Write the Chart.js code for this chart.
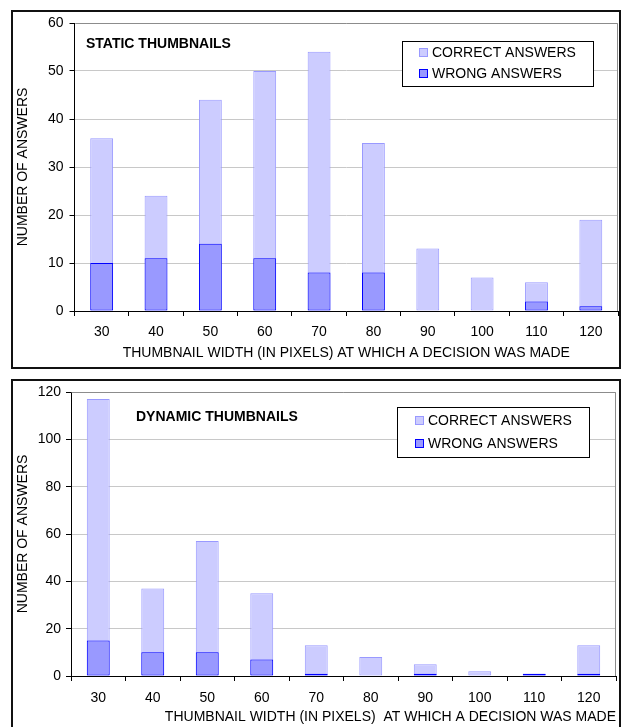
<!DOCTYPE html>
<html>
<head>
<meta charset="utf-8">
<script src="https://cdn.jsdelivr.net/npm/chart.js@4"></script>
<style>
  html, body { margin:0; padding:0; background:#fff; }
  body { width:624px; height:727px; position:relative; overflow:hidden; }
  canvas { position:absolute; left:0; }
</style>
</head>
<body>
<canvas id="c1" width="624" height="373" style="top:0"></canvas>
<canvas id="c2" width="624" height="354" style="top:373px"></canvas>
<script>
// ---- data ----
const widths = ['30','40','50','60','70','80','90','100','110','120'];
const staticCorrect = [36, 24, 44, 50, 54, 35, 13, 7, 6, 19];
const staticWrong   = [10, 11, 14, 11, 8, 8, null, null, 2, 1];
const dynamicCorrect = [117, 37, 57, 35, 13, 8, 5, 2, 1, 13];
const dynamicWrong   = [15, 10, 10, 7, 1, null, 1, null, 1, 1];
const seriesLabels = ['CORRECT ANSWERS', 'WRONG ANSWERS'];
const staticTitle = 'STATIC THUMBNAILS';
const dynamicTitle = 'DYNAMIC THUMBNAILS';
const yTitle = 'NUMBER OF ANSWERS';
const xTitleStatic = 'THUMBNAIL WIDTH (IN PIXELS) AT WHICH A DECISION WAS MADE';
const xTitleDynamic = 'THUMBNAIL WIDTH (IN PIXELS)  AT WHICH A DECISION WAS MADE';
const staticMax = 60, staticStep = 10;
const dynamicMax = 120, dynamicStep = 20;

const FONT = '"Liberation Sans", Arial, sans-serif';
Chart.defaults.font.family = FONT;
Chart.defaults.color = '#000';

function makeChart(id, opt) {
  const decor = {
    id: 'decor',
    beforeDraw(chart) {
      const ctx = chart.ctx;
      ctx.save();
      ctx.fillStyle = '#fff';
      ctx.fillRect(0, 0, chart.width, chart.height);
      ctx.restore();
    },
    afterDraw(chart) {
      const ctx = chart.ctx, a = chart.chartArea;
      ctx.save();
      // plot area border (top & right)
      ctx.strokeStyle = '#8c8c8c';
      ctx.lineWidth = 1;
      ctx.beginPath();
      ctx.moveTo(Math.round(a.left) + 0.5, Math.round(a.top) + 0.5);
      ctx.lineTo(Math.round(a.right) - 0.5, Math.round(a.top) + 0.5);
      ctx.lineTo(Math.round(a.right) - 0.5, Math.round(a.bottom));
      ctx.stroke();
      // outer frame
      ctx.strokeStyle = '#111';
      ctx.lineWidth = 2;
      const f = opt.frame;
      ctx.strokeRect(f[0], f[1], f[2], f[3]);
      // chart title
      ctx.fillStyle = '#000';
      ctx.font = 'bold 14px ' + FONT;
      ctx.textBaseline = 'middle';
      ctx.textAlign = 'left';
      ctx.fillText(opt.title, opt.titlePos[0], opt.titlePos[1]);
      // legend
      const L = opt.legend;
      ctx.fillStyle = '#fff';
      ctx.fillRect(L.box[0], L.box[1], L.box[2], L.box[3]);
      ctx.strokeStyle = '#000';
      ctx.lineWidth = 1;
      ctx.strokeRect(L.box[0] + 0.5, L.box[1] + 0.5, L.box[2], L.box[3]);
      ctx.font = '14px ' + FONT;
      chart.data.datasets.forEach((ds, i) => {
        const cy = L.rows[i];
        ctx.fillStyle = ds.backgroundColor;
        ctx.fillRect(L.sq, cy - 4, 9, 9);
        ctx.strokeStyle = ds.borderColor;
        ctx.strokeRect(L.sq + 0.5, cy - 3.5, 8, 8);
        ctx.fillStyle = '#000';
        ctx.fillText(ds.label, L.tx, cy + 1);
      });
      ctx.restore();
    }
  };
  return new Chart(document.getElementById(id), {
    type: 'bar',
    data: {
      labels: widths,
      datasets: [
        { label: seriesLabels[0], data: opt.correct, backgroundColor: '#ccccff', borderColor: '#9999ff',
          borderWidth: 1, borderSkipped: false, order: 1 },
        { label: seriesLabels[1], data: opt.wrong, backgroundColor: '#9999ff', borderColor: '#0000ff',
          borderWidth: 1, borderSkipped: false, order: 0 }
      ]
    },
    options: {
      responsive: false,
      animation: false,
      devicePixelRatio: 1,
      barPercentage: 0.42,
      categoryPercentage: 1,
      layout: { padding: opt.padding },
      plugins: { legend: { display: false }, tooltip: { enabled: false } },
      scales: {
        x: {
          stacked: true,
          offset: true,
          grid: { offset: true, drawOnChartArea: false, drawTicks: true, tickLength: 5, tickColor: '#000' },
          border: { color: '#000', width: 1 },
          ticks: { font: { size: 14 }, padding: opt.xTickPad, color: '#000' },
          title: { display: true, text: opt.xTitle, font: { size: 14 }, color: '#000',
                   align: opt.xAlign, padding: { top: 0, bottom: opt.xTitlePad } },
          afterFit(s) { s.height = opt.xHeight; }
        },
        y: {
          stacked: false,
          min: 0, max: opt.max,
          ticks: { stepSize: opt.step, font: { size: 14 }, padding: opt.yTickPad, color: '#000' },
          grid: { color: '#c8c8c8', tickColor: '#000', tickLength: 5 },
          border: { color: '#000', width: 1 },
          title: { display: true, text: yTitle, font: { size: 14 }, color: '#000', padding: { top: opt.yTitlePad, bottom: 0 } },
          afterFit(s) { s.width = opt.yWidth; }
        }
      }
    },
    plugins: [decor]
  });
}

makeChart('c1', {
  correct: staticCorrect, wrong: staticWrong, max: staticMax, step: staticStep,
  xTitle: xTitleStatic, xAlign: 'center', title: staticTitle, titlePos: [86, 44],
  padding: { left: 0, right: 6, top: 23, bottom: 0 },
  yWidth: 74.5, xHeight: 62, xTickPad: 7.5, xTitlePad: 11.5, yTickPad: 6, yTitlePad: 14.5,
  frame: [12, 11, 608, 357],
  legend: { box: [402, 41, 191, 45], sq: 419, rows: [52, 73], tx: 432 }
});

makeChart('c2', {
  correct: dynamicCorrect, wrong: dynamicWrong, max: dynamicMax, step: dynamicStep,
  xTitle: xTitleDynamic, xAlign: 'end', title: dynamicTitle, titlePos: [136, 44],
  padding: { left: 0, right: 8, top: 19, bottom: 0 },
  yWidth: 71, xHeight: 51, xTickPad: 8.5, xTitlePad: 1.5, yTickPad: 5, yTitlePad: 14.5,
  frame: [12, 7, 608, 400],
  legend: { box: [397, 34, 192, 50], sq: 415, rows: [47, 70], tx: 428 }
});
</script>
</body>
</html>
